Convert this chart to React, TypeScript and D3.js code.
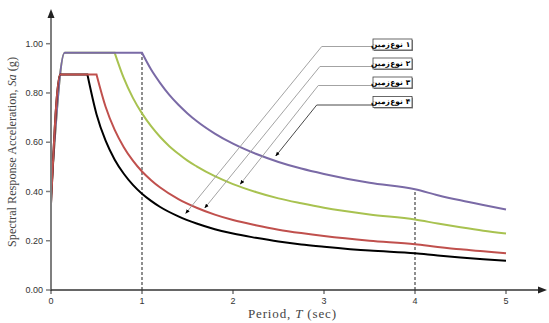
import React from 'react';
import * as d3 from 'd3';

// period T (sec) / spectral acceleration Sa (g)
const soil1Period = [0, 0.1, 0.4, 0.5, 0.6, 0.7, 0.8, 0.9, 1.0, 1.1, 1.2, 1.4, 1.6, 1.8, 2.0, 2.25, 2.5, 2.75, 3.0, 3.5, 4.0, 4.25, 4.5, 4.75, 5.0];
const soil1Sa = [0.35, 0.875, 0.875, 0.714, 0.606, 0.529, 0.472, 0.427, 0.391, 0.362, 0.337, 0.299, 0.27, 0.247, 0.229, 0.212, 0.197, 0.185, 0.176, 0.16, 0.149, 0.14, 0.132, 0.125, 0.119];

const soil2Period = [0, 0.1, 0.5, 0.6, 0.7, 0.8, 0.9, 1.0, 1.1, 1.2, 1.4, 1.6, 1.8, 2.0, 2.25, 2.5, 2.75, 3.0, 3.5, 4.0, 4.25, 4.5, 4.75, 5.0];
const soil2Sa = [0.35, 0.875, 0.875, 0.744, 0.65, 0.58, 0.525, 0.481, 0.446, 0.416, 0.369, 0.334, 0.306, 0.284, 0.263, 0.245, 0.231, 0.219, 0.2, 0.186, 0.175, 0.165, 0.157, 0.149];

const soil3Period = [0, 0.15, 0.7, 0.8, 0.9, 1.0, 1.1, 1.2, 1.3, 1.4, 1.5, 1.6, 1.8, 2.0, 2.25, 2.5, 2.75, 3.0, 3.5, 4.0, 4.25, 4.5, 4.75, 5.0];
const soil3Sa = [0.385, 0.963, 0.963, 0.86, 0.78, 0.717, 0.665, 0.621, 0.584, 0.553, 0.525, 0.502, 0.462, 0.43, 0.398, 0.372, 0.352, 0.334, 0.307, 0.286, 0.27, 0.255, 0.241, 0.229];

const soil4Period = [0, 0.15, 1.0, 1.1, 1.2, 1.3, 1.4, 1.5, 1.6, 1.8, 2.0, 2.25, 2.5, 2.75, 3.0, 3.5, 4.0, 4.25, 4.5, 4.75, 5.0];
const soil4Sa = [0.385, 0.963, 0.963, 0.895, 0.84, 0.792, 0.752, 0.717, 0.686, 0.635, 0.594, 0.553, 0.52, 0.493, 0.471, 0.435, 0.409, 0.385, 0.364, 0.345, 0.327];

const labels = ['زمین نوع ۱', 'زمین نوع ۲', 'زمین نوع ۳', 'زمین نوع ۴'];
// where each callout arrow lands (T, Sa) and where its leader bends
const arrowTipT = [1.48, 1.69, 2.08, 2.47];
const arrowTipSa = [0.311, 0.333, 0.43, 0.544];
const bendT = [2.975, 2.955, 2.937, 2.92];

const xTicks = [0, 1, 2, 3, 4, 5];
const yTicks = [0, 0.2, 0.4, 0.6, 0.8, 1.0];
const dashedAt = [1, 4];

const W = 549;
const H = 323;

const zip = (t: number[], v: number[]) => t.map((d, i) => [d, v[i]] as [number, number]);

export default function App() {
  const x = d3.scaleLinear().domain([0, 5]).range([51, 506]);
  const y = d3.scaleLinear().domain([0, 1]).range([290, 43.7]);
  const straight = d3
    .line<[number, number]>()
    .x((d) => x(d[0]))
    .y((d) => y(d[1]));
  const smooth = straight.curve(d3.curveMonotoneX);

  // draw order matters: flat tops overlap. knee = index where the decay starts
  const series = [
    { pts: zip(soil3Period, soil3Sa), knee: 2, color: '#a8c250' },
    { pts: zip(soil4Period, soil4Sa), knee: 2, color: '#7a6aa6' },
    { pts: zip(soil1Period, soil1Sa), knee: 2, color: '#000000' },
    { pts: zip(soil2Period, soil2Sa), knee: 2, color: '#c0504d' },
  ];
  const purple = zip(soil4Period, soil4Sa);

  const boxX = 373;
  const boxW = 39;
  const boxH = 11;
  const boxY = [39, 58, 77, 96.5];
  // words sit left to right inside each box (centres)
  const wordCx = [380.5, 396.5, 408];

  const axisColor = '#7f7f7f';
  const serif = 'Liberation Serif, Times New Roman, serif';

  return (
    <svg width={W} height={H} style={{ position: 'absolute', left: 0, top: 0, background: '#fff' }}>
      <defs>
        <marker id="tip" viewBox="0 0 10 10" refX="9" refY="5" markerWidth="5" markerHeight="5" orient="auto">
          <path d="M0,1 L10,5 L0,9 Z" fill="#000" />
        </marker>
      </defs>

      {/* dashed guides */}
      {dashedAt.map((t) => {
        const p = purple.find((d) => d[0] === t)!;
        return (
          <line key={t} x1={x(t)} x2={x(t)} y1={y(0)} y2={y(p[1])} stroke="#444" strokeWidth={1.2} strokeDasharray="3,2" />
        );
      })}

      {/* curves: straight ramp + plateau, smooth decay */}
      {series.map((s, i) => (
        <path
          key={i}
          d={(straight(s.pts.slice(0, s.knee + 1)) ?? '') + (smooth(s.pts.slice(s.knee)) ?? '').replace(/^M/, 'L')}
          fill="none"
          stroke={s.color}
          strokeWidth={2}
        />
      ))}

      {/* axes */}
      <line x1={x(0)} x2={x(0)} y1={y(0) + 1} y2={16} stroke={axisColor} strokeWidth={2} />
      <path d={`M${x(0) - 3.5},18 L${x(0)},9 L${x(0) + 3.5},18 Z`} fill="#222" />
      <line x1={x(0) - 1} x2={541} y1={y(0)} y2={y(0)} stroke="#333" strokeWidth={1.5} />
      <path d={`M538,${y(0) - 3.5} L547,${y(0)} L538,${y(0) + 3.5} Z`} fill="#222" />

      {yTicks.map((v) => (
        <g key={v}>
          <line x1={x(0) - 5} x2={x(0)} y1={y(v)} y2={y(v)} stroke={axisColor} strokeWidth={1.5} />
          <text x={x(0) - 8} y={y(v)} dy="0.35em" textAnchor="end" fontFamily="Liberation Sans, Arial" fontSize={9} fill="#333">
            {v.toFixed(2)}
          </text>
        </g>
      ))}
      {xTicks.map((t) => (
        <g key={t}>
          <line x1={x(t)} x2={x(t)} y1={y(0)} y2={y(0) + 4} stroke="#333" strokeWidth={1} />
          <text x={x(t)} y={y(0) + 14} textAnchor="middle" fontFamily="Liberation Sans, Arial" fontSize={9} fill="#333">
            {t}
          </text>
        </g>
      ))}

      {/* axis titles */}
      <text
        transform={`translate(16,152) rotate(-90)`}
        textAnchor="middle"
        fontFamily={serif}
        fontSize={12}
        textLength={190}
        lengthAdjust="spacingAndGlyphs"
        fill="#444"
      >
        Spectral Response Acceleration, <tspan fontStyle="italic">Sa</tspan> (g)
      </text>
      <text x={292} y={318} textAnchor="middle" fontFamily={serif} fontSize={13} textLength={88} fill="#444">
        Period, <tspan fontStyle="italic">T</tspan> (sec)
      </text>

      {/* callouts */}
      {labels.map((lab, i) => {
        const yy = boxY[i] + boxH / 2 + (i === 0 ? 2 : 3);
        const bx = x(bendT[i]);
        const tx = x(arrowTipT[i]);
        const ty = y(arrowTipSa[i]);
        const c = i === 3 ? '#333' : '#999';
        return (
          <g key={i}>
            <polyline
              points={`${boxX},${yy} ${bx},${yy} ${tx},${ty}`}
              fill="none"
              stroke={c}
              strokeWidth={0.9}
              markerEnd="url(#tip)"
            />
            <rect x={boxX + 1} y={boxY[i] + 1} width={boxW} height={boxH} fill="#888" />
            <rect x={boxX} y={boxY[i]} width={boxW} height={boxH} fill="#fff" stroke="#444" strokeWidth={0.8} />
            {lab.split(' ').map((w, j) => (
              <text
                key={j}
                x={wordCx[j]}
                y={boxY[i] + boxH / 2}
                dy="0.32em"
                textAnchor="middle"
                fontFamily="DejaVu Sans"
                fontWeight="bold"
                fontSize={7.5}
                fill="#000"
              >
                {w}
              </text>
            ))}
          </g>
        );
      })}
    </svg>
  );
}
